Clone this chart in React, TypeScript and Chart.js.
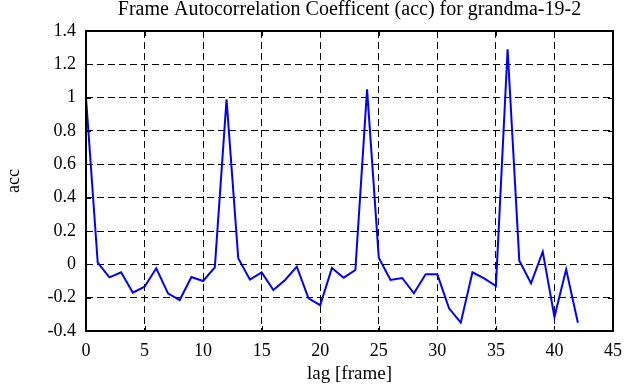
import React, { useEffect, useRef } from "react";
import { Chart, registerables } from "chart.js";

Chart.register(...registerables);

const TITLE = "Frame Autocorrelation Coefficent (acc) for grandma-19-2";
const X_LABEL = "lag [frame]";
const Y_LABEL = "acc";

const lags = [
  0, 1, 2, 3, 4, 5, 6, 7, 8, 9, 10, 11, 12, 13, 14, 15, 16, 17, 18, 19, 20,
  21, 22, 23, 24, 25, 26, 27, 28, 29, 30, 31, 32, 33, 34, 35, 36, 37, 38, 39,
  40, 41, 42,
];
const acc = [
  1.0, 0.01, -0.078, -0.048, -0.17, -0.134, -0.024, -0.174, -0.214, -0.076,
  -0.1, -0.018, 0.99, 0.036, -0.092, -0.048, -0.154, -0.094, -0.014, -0.204,
  -0.245, -0.022, -0.08, -0.034, 1.05, 0.04, -0.094, -0.082, -0.174, -0.06,
  -0.06, -0.264, -0.35, -0.048, -0.084, -0.13, 1.29, 0.022, -0.114, 0.076,
  -0.315, -0.03, -0.35,
];

const X_MIN = 0;
const X_MAX = 45;
const X_STEP = 5;
const Y_MIN = -0.4;
const Y_MAX = 1.4;
const Y_STEP = 0.2;

const FONT = "'Liberation Serif', 'Times New Roman', serif";

const framePlugin = {
  id: "frameTicks",
  afterDraw(chart: any) {
    const { ctx, chartArea, scales } = chart;
    const { left, right, top, bottom } = chartArea;
    const len = 5;
    ctx.save();
    ctx.strokeStyle = "#000";
    ctx.lineWidth = 1;
    ctx.setLineDash([]);
    ctx.beginPath();
    scales.x.ticks.forEach((t: any) => {
      const px = Math.round(scales.x.getPixelForValue(t.value)) + 0.5;
      ctx.moveTo(px, bottom);
      ctx.lineTo(px, bottom - len);
      ctx.moveTo(px, top);
      ctx.lineTo(px, top + len);
    });
    scales.y.ticks.forEach((t: any) => {
      const py = Math.round(scales.y.getPixelForValue(t.value)) + 0.5;
      ctx.moveTo(left, py);
      ctx.lineTo(left + len, py);
      ctx.moveTo(right, py);
      ctx.lineTo(right - len, py);
    });
    ctx.stroke();
    ctx.lineWidth = 2;
    ctx.strokeRect(left, top, right - left, bottom - top);
    ctx.restore();
  },
};

export default function App() {
  const ref = useRef<HTMLCanvasElement | null>(null);

  useEffect(() => {
    document.body.style.margin = "0";
    const canvas = ref.current;
    if (!canvas) return;
    const chart = new Chart(canvas, {
      type: "line",
      data: {
        datasets: [
          {
            data: lags.map((l, i) => ({ x: l, y: acc[i] })),
            borderColor: "rgb(0,0,255)",
            borderWidth: 2,
            pointRadius: 0,
            fill: false,
            tension: 0,
          },
        ],
      },
      options: {
        responsive: false,
        animation: false,
        devicePixelRatio: 1,
        layout: { padding: { left: 0, right: 22, top: 0, bottom: 0 } },
        plugins: {
          legend: { display: false },
          tooltip: { enabled: false },
          title: {
            display: true,
            fullSize: false,
            text: TITLE,
            color: "#000",
            font: { family: FONT, size: 20, weight: "normal", lineHeight: 0.95 },
            padding: { top: 0, bottom: 12 },
          },
        },
        scales: {
          x: {
            type: "linear",
            min: X_MIN,
            max: X_MAX,
            afterFit: (s: any) => {
              s.height = 56;
            },
            ticks: {
              stepSize: X_STEP,
              color: "#000",
              padding: 9,
              maxRotation: 0,
              font: { family: FONT, size: 18 },
            },
            grid: {
              color: "#000",
              lineWidth: 1,
              drawTicks: false,
            },
            border: { display: false, dash: [7, 4] },
            title: {
              display: true,
              text: X_LABEL,
              color: "#000",
              font: { family: FONT, size: 19, lineHeight: 1.2 },
              padding: { top: 0, bottom: 2 },
            },
          },
          y: {
            type: "linear",
            min: Y_MIN,
            max: Y_MAX,
            afterFit: (s: any) => {
              s.width = 86;
            },
            ticks: {
              stepSize: Y_STEP,
              color: "#000",
              padding: 10,
              font: { family: FONT, size: 18 },
              callback: (v: any) => {
                const n = parseFloat(Number(v).toFixed(2));
                return (Object.is(n, -0) ? 0 : n).toString();
              },
            },
            grid: {
              color: "#000",
              lineWidth: 1,
              drawTicks: false,
            },
            border: { display: false, dash: [7, 4] },
            title: {
              display: true,
              text: Y_LABEL,
              color: "#000",
              font: { family: FONT, size: 18, lineHeight: 1.2 },
              padding: { top: 3, bottom: 0 },
            },
          },
        },
      },
      plugins: [framePlugin],
    });
    return () => chart.destroy();
  }, []);

  return (
    <div style={{ width: 635, height: 387, background: "#fff" }}>
      <canvas ref={ref} width={635} height={387} />
    </div>
  );
}
